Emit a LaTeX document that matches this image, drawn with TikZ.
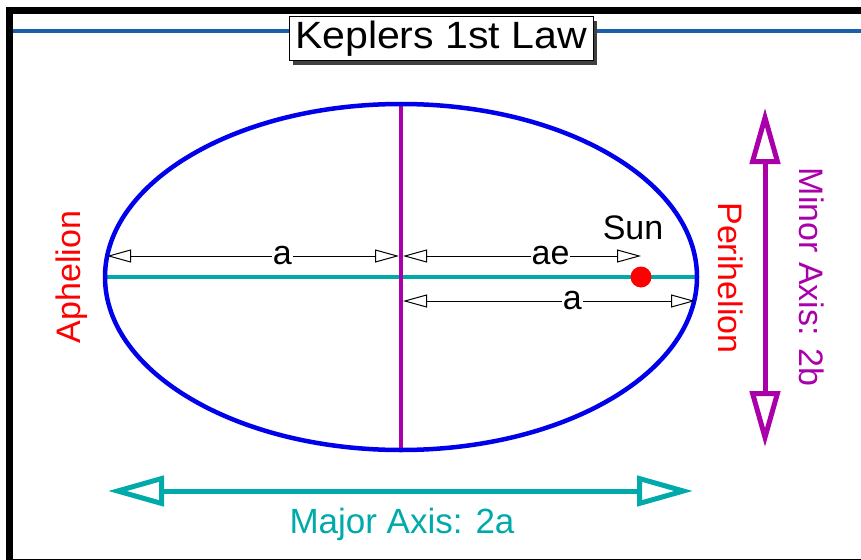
\documentclass[tikz,border=0pt]{standalone}
\usepackage{fontspec}
\setmainfont{Liberation Sans}
\usetikzlibrary{arrows.meta,positioning,calc,shadows}
\definecolor{orbitblue}{RGB}{0,0,235}
\definecolor{axismag}{RGB}{170,0,170}
\definecolor{axisteal}{RGB}{0,170,170}
\definecolor{barblue}{RGB}{25,95,170}

\begin{document}
\begin{tikzpicture}[x=1pt,y=-1pt,
    lbl/.style={font=\fontsize{34}{40}\selectfont,inner sep=1pt},
    dim/.style={line width=1pt,{Triangle[open,length=24pt,width=13pt]}-{Triangle[open,length=24pt,width=13pt]}},
    bigaxis/.style={line width=5pt,{Triangle[open,length=56pt,width=30pt]}-{Triangle[open,length=56pt,width=30pt]}}]
    \useasboundingbox (0,0) rectangle (861,559);
    \draw[line width=7pt] (9,10.5) rectangle (864,562);
    \draw[barblue,line width=3.5pt] (13,31) -- (861,31);
    \node[draw,fill=white,line width=1pt,inner xsep=6pt,minimum height=44pt,
        font=\fontsize{38}{44}\selectfont,
        drop shadow={shadow xshift=4pt,shadow yshift=-4pt,fill=black!75,opacity=1}]
        (title) at (441,39) {\scalebox{1.08}[1]{Keplers 1st Law}};

    \coordinate (ctr) at (401,277);
    \coordinate (aph) at (105,277);
    \coordinate (peri) at (697,277);
    \coordinate (top) at (401,104);
    \coordinate (bot) at (401,450);
    \draw[axisteal,line width=4.5pt] (aph) -- (peri);
    \draw[axismag,line width=4.5pt] (top) -- (bot);
    \draw[orbitblue,line width=4.5pt] (ctr) ellipse [x radius=296,y radius=173];
    \node[circle,fill=red,minimum size=21pt,inner sep=0pt] (sun) at (641,277) {};
    \node[lbl] (sunlbl) at (633,228) {Sun};

    \coordinate (aphU) at (107,256);
    \coordinate (ctrUL) at (399,256);
    \coordinate (ctrUR) at (403,256);
    \coordinate (sunU) at (641,256);
    \coordinate (ctrD) at (403,301);
    \coordinate (periD) at (695,301);
    \draw[dim] (aphU) -- node[lbl,fill=white,pos=0.6] (la) {a} (ctrUL);
    \draw[dim] (ctrUR) -- node[lbl,fill=white,pos=0.62] (lae) {ae} (sunU);
    \draw[dim] (ctrD) -- node[lbl,fill=white,pos=0.58] (lb) {a} (periD);

    \node[lbl,red,rotate=90] (aphlbl) at (72,277) {Aphelion};
    \node[lbl,red,rotate=-90] (perilbl) at (731,278) {Perihelion};

    \coordinate (minT) at (765,108);
    \coordinate (minB) at (765,447);
    \draw[bigaxis,axismag] (minT) -- (minB);
    \node[lbl,axismag,rotate=-90] (minlbl) at (812,277) {Minor Axis: 2b};

    \coordinate (majL) at (108,491);
    \coordinate (majR) at (693,491);
    \draw[bigaxis,axisteal] (majL) -- (majR);
    \node[lbl,axisteal,font=\fontsize{35}{40}\selectfont] (majlbl) at (402,524) {Major Axis: 2a};
\end{tikzpicture}
\end{document}
